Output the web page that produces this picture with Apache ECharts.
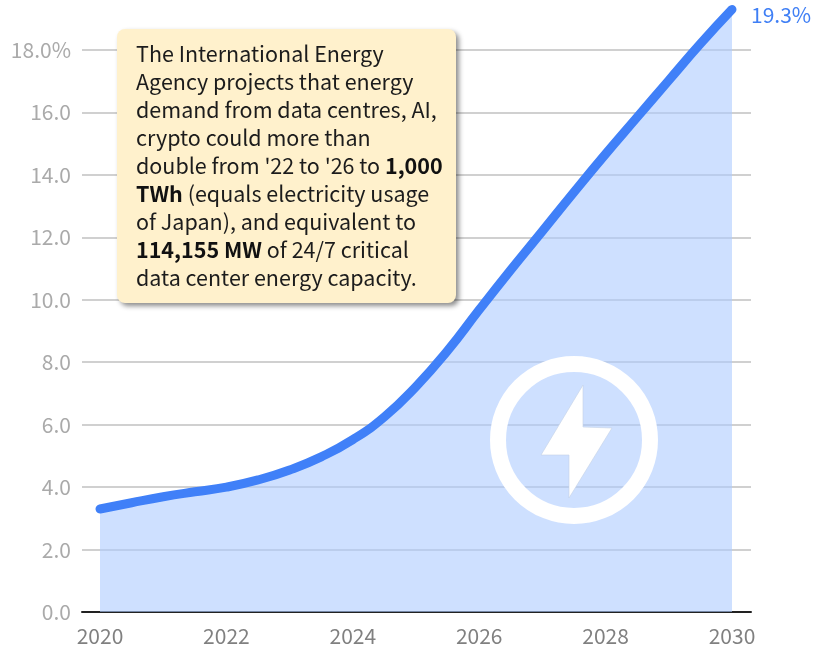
<!DOCTYPE html>
<html><head><meta charset="utf-8">
<style>html,body{margin:0;padding:0;background:#fff}#c{width:813px;height:648px}</style>
<script src="https://cdn.jsdelivr.net/npm/echarts@6/dist/echarts.min.js"></script></head>
<body><div id="c"></div>
<script>
const years = [2020,2020.5,2021,2021.5,2022,2022.5,2023,2023.5,2024,2024.5,2025,2025.5,2026,2026.5,2027,2027.5,2028,2028.5,2029,2029.5,2030];
const share = [3.3,3.5,3.69,3.85,4.0,4.23,4.55,4.97,5.52,6.25,7.22,8.37,9.68,10.96,12.2,13.45,14.67,15.85,17.03,18.2,19.3];
const xTicks = [2020,2022,2024,2026,2028,2030];
const noteLines = [
 ["The International Energy"],
 ["Agency projects that energy"],
 ["demand from data centres, AI,"],
 ["crypto could more than"],
 ["double from '22 to '26 to ","*1,000"],
 ["*TWh"," (equals electricity usage"],
 ["of Japan), and equivalent to"],
 ["*114,155 MW"," of 24/7 critical"],
 ["data center energy capacity."]
];
const lastLabel = "19.3%";
const F = '"Noto Sans CJK SC","Noto Sans",sans-serif';
const noteText = noteLines.map(l=>l.map(s=>s[0]==='*'?`{b|${s.slice(1)}}`:`{n|${s}}`).join('')).join('\n');
const pxPerYear = 63.2;
const chart = echarts.init(document.getElementById('c'),null,{renderer:'canvas'});
chart.setOption({
 animation:false,
 grid:{left:82,right:62,top:3,bottom:36},
 xAxis:{type:'value',min:2020-18/pxPerYear,max:2030+19/pxPerYear,
  splitLine:{show:false},axisTick:{show:false},
  axisLine:{show:true,onZero:false,lineStyle:{color:'#222',width:2}},
  axisLabel:{customValues:xTicks,color:'#808080',fontFamily:F,fontSize:21,margin:14,formatter:v=>String(v)}},
 yAxis:{type:'value',min:0,max:609/31.22,interval:2,
  axisLine:{show:false},axisTick:{show:false},
  splitLine:{show:true,lineStyle:{color:'#d0d0d0',width:2},showMinLine:false,showMaxLine:false},
  axisLabel:{showMaxLabel:false,color:'#aaaaaa',fontFamily:F,fontSize:21,margin:11,
   formatter:v=>v===18?'18.0%':v.toFixed(1)}},
 series:[{type:'line',data:years.map((y,i)=>[y,share[i]]),smooth:0.5,symbol:'none',z:3,clip:false,
  lineStyle:{color:'#4080f8',width:9,cap:'round'},
  areaStyle:{color:'#aecbff',opacity:0.6},
  endLabel:{show:true,formatter:lastLabel,color:'#3f7ff5',fontFamily:F,fontSize:21,distance:19,offset:[0,6]}}],
 graphic:[
  {type:'rect',z:10,shape:{x:117,y:29,width:339,height:274,r:8},
   style:{fill:'#fff1cc',shadowBlur:5,shadowOffsetX:3,shadowOffsetY:3,shadowColor:'rgba(0,0,0,0.45)'}},
  {type:'text',z:11,x:136,y:40,style:{text:noteText,fontFamily:F,
   rich:{n:{fontSize:21.5,lineHeight:28,fill:'#1c1c1c',fontFamily:F},b:{fontSize:21.5,lineHeight:28,fontWeight:'bold',fill:'#111',fontFamily:F}}}},
  {type:'circle',z:5,shape:{cx:574,cy:440,r:76},style:{fill:'none',stroke:'#ffffff',lineWidth:16}},
  {type:'polygon',z:5,shape:{points:[[583,385],[583,427],[612,428],[569,498],[569,455],[541,455]]},style:{fill:'#ffffff',stroke:'#c4d2e6',lineWidth:0.6}}
 ]
});
</script></body></html>
